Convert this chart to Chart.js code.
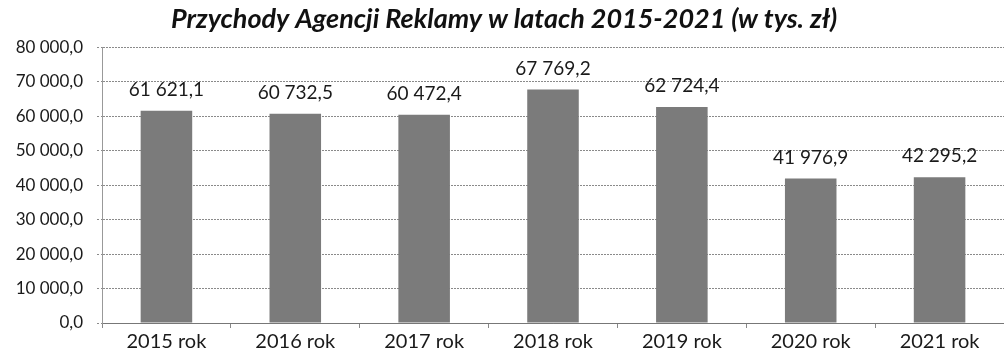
<!DOCTYPE html>
<html>
<head>
<meta charset="utf-8">
<script src="https://cdn.jsdelivr.net/npm/chart.js@4"></script>
<style>
  html, body { margin: 0; padding: 0; background: #fff; }
  #wrap { width: 1004px; height: 358px; }
</style>
</head>
<body>
<div id="wrap"><canvas id="revenueChart" width="1004" height="358"></canvas></div>
<script>
const years = ["2015 rok", "2016 rok", "2017 rok", "2018 rok", "2019 rok", "2020 rok", "2021 rok"];
const revenue = [61621.1, 60732.5, 60472.4, 67769.2, 62724.4, 41976.9, 42295.2];
const yTicks = [0, 10000, 20000, 30000, 40000, 50000, 60000, 70000, 80000];

// "61 621,1" style
function fmt(v) {
    let parts = v.toFixed(1).split(".");
    let whole = parts[0].replace(/\B(?=(\d{3})+(?!\d))/g, " ");
    return whole + "," + parts[1];
}

const valueLabels = {
    id: "valueLabels",
    afterDatasetsDraw(chart) {
        let ctx = chart.ctx;
        let meta = chart.getDatasetMeta(0);
        ctx.save();
        ctx.font = "19px Lato";
        ctx.fillStyle = "#1a1a1a";
        ctx.textAlign = "center";
        ctx.textBaseline = "middle";
        meta.data.forEach(function (bar, i) {
            ctx.fillText(fmt(revenue[i]), bar.x, bar.y - 21);
        });
        ctx.restore();
    }
};

let ctx = document.getElementById("revenueChart").getContext("2d");
new Chart(ctx, {
    type: "bar",
    data: {
        labels: years,
        datasets: [{
            data: revenue,
            backgroundColor: "#7b7b7b",
            borderWidth: 0,
            categoryPercentage: 1.0,
            barPercentage: 0.4
        }]
    },
    options: {
        responsive: false,
        animation: false,
        layout: { padding: { left: 4, right: 0, top: 0, bottom: 2 } },
        plugins: {
            legend: { display: false },
            tooltip: { enabled: false },
            title: {
                display: true,
                text: "Przychody Agencji Reklamy w latach 2015-2021 (w tys. zł)",
                font: { family: "Lato", size: 27, weight: "bold", style: "italic" },
                color: "#111",
                padding: { top: 3, bottom: 12 }
            }
        },
        scales: {
            x: {
                grid: {
                    drawOnChartArea: false,
                    drawTicks: true,
                    tickLength: 5,
                    color: "#888"
                },
                border: { color: "#777", width: 1 },
                ticks: {
                    font: { family: "Lato", size: 20 },
                    color: "#1a1a1a",
                    padding: 2
                }
            },
            y: {
                min: 0,
                max: 80000,
                afterBuildTicks(axis) {
                    axis.ticks = yTicks.map(v => ({ value: v }));
                },
                afterFit(axis) { axis.width = 98; },
                grid: {
                    color: "#8a8a8a",
                    tickLength: 5,
                    tickBorderDash: [2, 2]
                },
                border: { color: "#999", dash: [2, 1] },
                ticks: {
                    font: { family: "Lato", size: 17 },
                    color: "#1a1a1a",
                    padding: 14,
                    callback: v => fmt(v)
                }
            }
        }
    },
    plugins: [valueLabels]
});
</script>
</body>
</html>
